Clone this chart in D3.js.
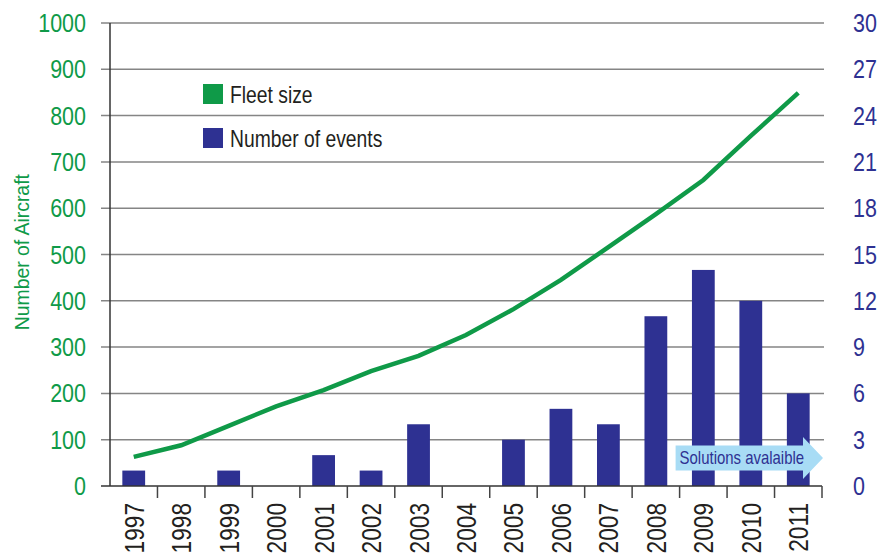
<!DOCTYPE html>
<html>
<head>
<meta charset="utf-8">
<script src="https://cdn.jsdelivr.net/npm/d3@7"></script>
<style>
  body { margin: 0; background: #fff; }
  text { font-family: "Liberation Sans", Arial, sans-serif; }
</style>
</head>
<body>
<div id="chart"></div>
<script>
const years = ["1997","1998","1999","2000","2001","2002","2003","2004","2005","2006","2007","2008","2009","2010","2011"];
const fleetSize = [63, 88, 130, 172, 207, 248, 281, 326, 382, 445, 516, 587, 661, 756, 849];
const events = [1, 0, 1, 0, 2, 1, 4, 0, 3, 5, 4, 11, 14, 12, 6];
const leftTicks = [0, 100, 200, 300, 400, 500, 600, 700, 800, 900, 1000];
const rightTicks = [0, 3, 6, 9, 12, 15, 18, 21, 24, 27, 30];

const green = "#0f9a48";
const navy = "#2e3192";
const narrow = 0.86; // condensed look

const W = 892, H = 556;
const margin = {top: 23, right: 70, bottom: 70, left: 110};
const width = W - margin.left - margin.right;
const height = H - margin.top - margin.bottom;

const svg = d3.select("#chart").append("svg")
  .attr("width", W).attr("height", H);
const g = svg.append("g").attr("transform", `translate(${margin.left},${margin.top})`);

const x = d3.scaleBand().domain(years).range([0, width]).paddingInner(0.52).paddingOuter(0.26);
const xb = d3.scaleBand().domain(years).range([0, width]);
const yL = d3.scaleLinear().domain([0, 1000]).range([height, 0]);
const yR = d3.scaleLinear().domain([0, 30]).range([height, 0]);

// gridlines
g.selectAll("line.grid").data(leftTicks.filter(d => d > 0)).enter().append("line")
  .attr("class", "grid")
  .attr("x1", -9).attr("x2", width + 2)
  .attr("y1", d => yL(d)).attr("y2", d => yL(d))
  .attr("stroke", "#858585").attr("stroke-width", 1.5);

// bars
g.selectAll("rect.bar").data(years).enter().append("rect")
  .attr("x", d => x(d))
  .attr("width", x.bandwidth())
  .attr("y", (d, i) => yR(events[i]))
  .attr("height", (d, i) => height - yR(events[i]))
  .attr("fill", navy);

// fleet line
g.append("path")
  .datum(fleetSize)
  .attr("fill", "none")
  .attr("stroke", green)
  .attr("stroke-width", 4.5)
  .attr("d", d3.line().x((d, i) => xb(years[i]) + xb.bandwidth() / 2).y(d => yL(d)));

// left axis
g.append("line").attr("x1", 0).attr("x2", 0).attr("y1", 0).attr("y2", height)
  .attr("stroke", "#333").attr("stroke-width", 1.5);
g.selectAll("text.yl").data(leftTicks).enter().append("text")
  .attr("transform", d => `translate(-24,${yL(d)}) scale(${narrow},1)`)
  .attr("dy", "0.36em")
  .attr("text-anchor", "end").attr("fill", green).attr("font-size", 25)
  .text(d => d);
g.append("line").attr("x1", -9).attr("x2", 0).attr("y1", height).attr("y2", height)
  .attr("stroke", "#333").attr("stroke-width", 1.5);

// right axis labels
g.selectAll("text.yr").data(rightTicks).enter().append("text")
  .attr("transform", d => `translate(${width + 31},${yR(d)}) scale(${narrow},1)`)
  .attr("dy", "0.36em")
  .attr("text-anchor", "start").attr("fill", navy).attr("font-size", 25)
  .text(d => d);

// bottom axis
g.append("line").attr("x1", 0).attr("x2", width).attr("y1", height).attr("y2", height)
  .attr("stroke", "#333").attr("stroke-width", 1.5);
g.selectAll("line.xt").data(years.slice(1).concat(["end"])).enter().append("line")
  .attr("x1", (d, i) => i < years.length - 1 ? xb(d) : width)
  .attr("x2", (d, i) => i < years.length - 1 ? xb(d) : width)
  .attr("y1", height).attr("y2", height + 12)
  .attr("stroke", "#444").attr("stroke-width", 1.5);
g.selectAll("text.xl").data(years).enter().append("text")
  .attr("transform", d => `translate(${xb(d) + xb.bandwidth() / 2 + 10},${height + 17}) rotate(-90) scale(0.84,1)`)
  .attr("text-anchor", "end").attr("fill", "#231f20").attr("font-size", 27)
  .text(d => d);

// axis title
svg.append("text")
  .attr("transform", `translate(29,${margin.top + yL(505)}) rotate(-90) scale(0.97,1)`)
  .attr("text-anchor", "middle").attr("fill", green).attr("font-size", 20)
  .text("Number of Aircraft");

// legend
const legend = [["Fleet size", green], ["Number of events", navy]];
const lg = svg.selectAll("g.leg").data(legend).enter().append("g")
  .attr("transform", (d, i) => `translate(203,${84 + i * 44})`);
lg.append("rect").attr("width", 20).attr("height", 20).attr("fill", d => d[1]);
lg.append("text").attr("transform", "translate(27,19) scale(0.84,1)")
  .attr("font-size", 23).attr("fill", "#231f20")
  .text(d => d[0]);

// "Solutions avalaible" arrow
const ax0 = xb("2009") - 4, ax1 = width + 1, ay = height - 28;
g.append("path")
  .attr("d", `M${ax0},${ay - 12.5} L${ax1 - 20},${ay - 12.5} L${ax1 - 20},${ay - 21} L${ax1},${ay} L${ax1 - 20},${ay + 21} L${ax1 - 20},${ay + 12.5} L${ax0},${ay + 12.5} Z`)
  .attr("fill", "#a8dcf5");
g.append("text")
  .attr("transform", `translate(${ax0 + 4},${ay}) scale(0.83,1)`)
  .attr("dy", "0.36em")
  .attr("fill", navy).attr("font-size", 18)
  .text("Solutions avalaible");
</script>
</body>
</html>
